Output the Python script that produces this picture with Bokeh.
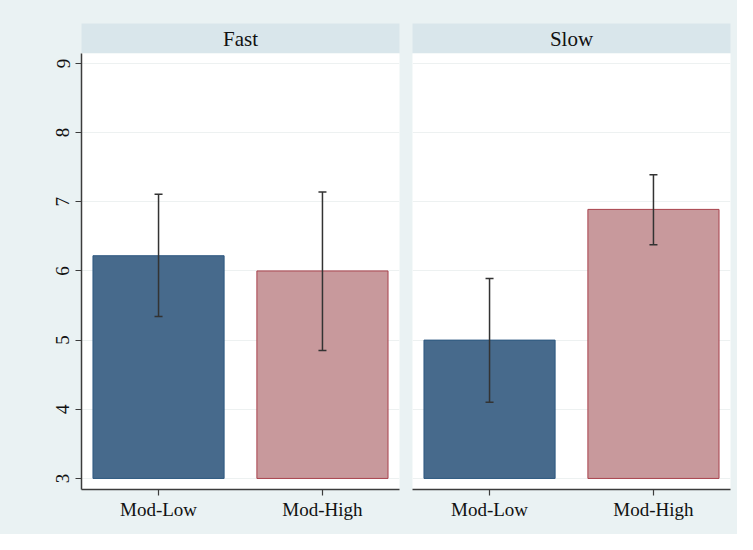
from bokeh.plotting import figure
from bokeh.models import ColumnDataSource, Whisker, TeeHead, FixedTicker, Range1d, Label
from bokeh.layouts import row, column
from bokeh.embed import file_html
from bokeh.resources import INLINE

# ---- data ----
groups = ["Fast", "Slow"]
categories = ["Mod-Low", "Mod-High"]
fast_means = [6.22, 6.00]
fast_lower = [5.34, 4.85]
fast_upper = [7.11, 7.14]
slow_means = [5.00, 6.89]
slow_lower = [4.10, 6.38]
slow_upper = [5.89, 7.39]
y_ticks = [3, 4, 5, 6, 7, 8, 9]
bar_base = 3

# ---- style ----
OUTER = "#EAF2F3"
HEADER = "#D9E6EB"
GRID = "#EDF1F1"
AXIS = "#3C3C3C"
FONT = "Liberation Serif"
FILLS = ["#476A8C", "#C8999C"]
LINES = ["#2D5880", "#A8414C"]

y_range = Range1d(2.84, 9.144)
x_pos = [1, 2]


def header(title, left, right):
    h = figure(frame_width=318, frame_height=30, min_border_top=23, min_border_bottom=0,
               min_border_left=left, min_border_right=right,
               x_range=Range1d(0, 1), y_range=Range1d(0, 1),
               background_fill_color=HEADER, border_fill_color=OUTER,
               outline_line_color=None, toolbar_location=None, output_backend="svg",
               styles={"background-color": OUTER})
    h.axis.visible = False
    h.grid.visible = False
    h.add_layout(Label(x=0.5, y=0.5, text=title, text_align="center", text_baseline="middle",
                       text_font=FONT, text_font_size="21px", text_color="#111111"))
    return h


def panel(means, lower, upper, left, right, show_y):
    p = figure(frame_width=318, frame_height=436, min_border_top=0, min_border_bottom=45,
               min_border_left=left, min_border_right=right,
               x_range=Range1d(0.53, 2.47), y_range=y_range,
               y_axis_location="left" if show_y else None,
               background_fill_color="white", border_fill_color=OUTER,
               outline_line_color=None, toolbar_location=None, output_backend="svg",
               styles={"background-color": OUTER})
    src = ColumnDataSource(dict(x=x_pos, top=means, lo=lower, hi=upper,
                                fill=FILLS, line=LINES))
    p.vbar(x="x", top="top", bottom=bar_base, width=0.8, source=src,
           fill_color="fill", line_color="line", line_width=1)
    w = Whisker(base="x", lower="lo", upper="hi", source=src, dimension="height",
                line_color="#333333", line_width=1.5, level="overlay",
                upper_head=TeeHead(size=8, line_color="#333333", line_width=1.5),
                lower_head=TeeHead(size=8, line_color="#333333", line_width=1.5))
    p.add_layout(w)
    p.xgrid.visible = False
    p.ygrid.ticker = FixedTicker(ticks=y_ticks)
    p.ygrid.grid_line_color = GRID
    p.ygrid.grid_line_width = 1
    p.xaxis.ticker = FixedTicker(ticks=x_pos)
    p.xaxis.major_label_overrides = {x: c for x, c in zip(x_pos, categories)}
    for ax in p.axis:
        ax.axis_line_color = AXIS
        ax.axis_line_width = 1.5
        ax.major_tick_line_color = AXIS
        ax.major_tick_line_width = 1.2
        ax.major_tick_out = 6
        ax.major_tick_in = 0
        ax.minor_tick_line_color = None
        ax.major_label_text_font = FONT
        ax.major_label_text_font_size = "19px"
        ax.major_label_text_color = "#111111"
    p.xaxis.major_label_standoff = 3
    if show_y:
        p.yaxis.ticker = FixedTicker(ticks=y_ticks)
        p.yaxis.major_label_orientation = "vertical"
        p.yaxis.major_label_standoff = 6
    return p


h1 = header(groups[0], 81, 7)
h2 = header(groups[1], 6, 7)
p1 = panel(fast_means, fast_lower, fast_upper, 81, 7, True)
p2 = panel(slow_means, slow_lower, slow_upper, 6, 7, False)

layout = row(column(h1, p1, styles={"background-color": OUTER}),
             column(h2, p2, styles={"background-color": OUTER}),
             styles={"background-color": OUTER})

open("out.html", "w").write(file_html(layout, INLINE))
